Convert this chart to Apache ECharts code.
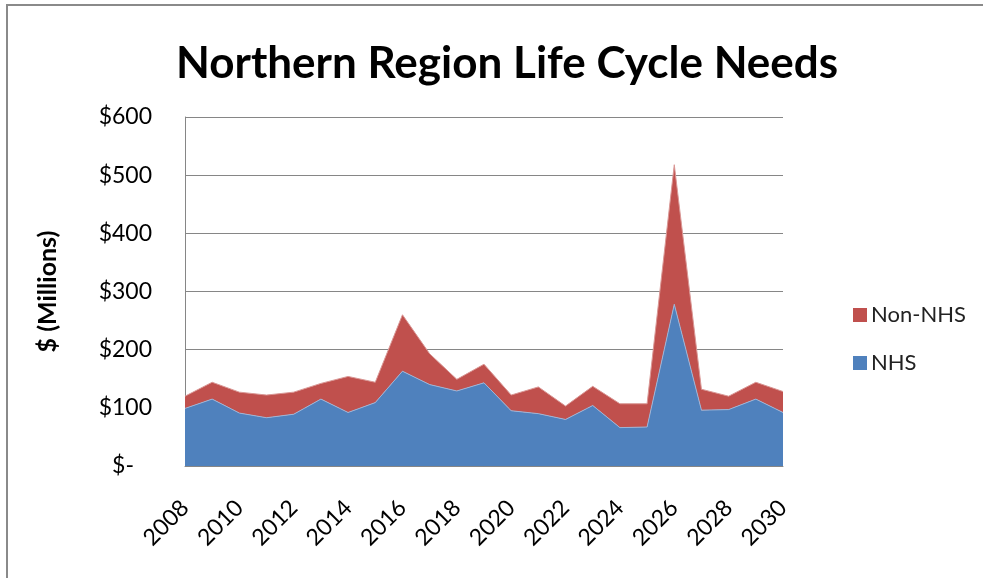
<!DOCTYPE html>
<html>
<head>
<meta charset="utf-8">
<script src="https://cdn.jsdelivr.net/npm/echarts@6/dist/echarts.min.js"></script>
<style>
  html, body { margin: 0; padding: 0; background: #fff; overflow: hidden; width: 983px; height: 578px; }
  #frame {
    position: absolute; left: 6px; top: 4px; width: 990px; height: 590px;
    border-top: 2px solid #8a8a8a; border-left: 2px solid #8a8a8a;
  }
  #chart { position: absolute; left: 0; top: 0; width: 983px; height: 578px; }
</style>
</head>
<body>
<div id="frame"></div>
<div id="chart"></div>
<script>
// Datos ($ millones)
const years = ["2008", "2009", "2010", "2011", "2012", "2013", "2014", "2015", "2016", "2017", "2018", "2019",
  "2020", "2021", "2022", "2023", "2024", "2025", "2026", "2027", "2028", "2029", "2030"];
const nhs = [99, 115, 91, 83, 89, 115, 92, 109, 163, 140, 129, 143, 95, 90, 80, 104, 66, 67, 278, 96, 97, 115, 92];
const nonNhs = [21, 29, 36, 39, 38, 27, 62, 35, 97, 53, 20, 32, 27, 46, 23, 33, 41, 40, 240, 36, 23, 29, 36];

const font = "Lato, 'Open Sans', sans-serif";

const chartInstance = echarts.init(document.getElementById("chart"));

const option = {
  animation: false,
  title: {
    text: "Northern Region Life Cycle Needs",
    left: 171,
    top: 37,
    textStyle: { fontFamily: font, fontWeight: "bold", fontSize: 44, color: "#000" },
  },
  legend: {
    orient: "vertical",
    left: 848,
    top: 299,
    itemGap: 26,
    itemWidth: 14,
    itemHeight: 14,
    icon: "rect",
    data: ["Non-NHS", "NHS"],
    textStyle: { fontFamily: font, fontSize: 22, color: "#222", padding: [0, 0, 0, -1] },
  },
  grid: { left: 185, right: 200, top: 117, bottom: 112 },
  xAxis: {
    type: "category",
    boundaryGap: false,
    data: years,
    axisLine: { lineStyle: { color: "#868686" } },
    axisTick: { show: false },
    axisLabel: {
      interval: 1,
      rotate: 45,
      margin: 38,
      fontFamily: font,
      fontSize: 23,
      color: "#000",
    },
  },
  yAxis: {
    type: "value",
    min: 0,
    max: 600,
    interval: 100,
    name: "$ (Millions)",
    nameLocation: "middle",
    nameGap: 125,
    nameTextStyle: { fontFamily: font, fontWeight: "bold", fontSize: 25, color: "#000" },
    axisLine: { show: true, lineStyle: { color: "#868686" } },
    axisTick: { show: false },
    splitLine: { lineStyle: { color: "#868686", width: 1 } },
    axisLabel: {
      margin: 33,
      fontFamily: font,
      fontSize: 23,
      color: "#000",
      formatter: (v) => (v === 0 ? "{z|$-}" : "$" + v),
      rich: { z: { fontFamily: font, fontSize: 23, color: "#000", padding: [0, 18, 0, 0] } },
    },
  },
  series: [
    {
      name: "NHS",
      type: "line",
      stack: "total",
      data: nhs,
      symbol: "none",
      color: "#4F81BD",
      lineStyle: { width: 1, color: "#9bb5d8" },
      areaStyle: { color: "#4F81BD", opacity: 1 },
    },
    {
      name: "Non-NHS",
      type: "line",
      stack: "total",
      data: nonNhs,
      symbol: "none",
      color: "#C0504D",
      lineStyle: { width: 1, color: "#d99795" },
      areaStyle: { color: "#C0504D", opacity: 1 },
    },
  ],
};

chartInstance.setOption(option);
</script>
</body>
</html>
